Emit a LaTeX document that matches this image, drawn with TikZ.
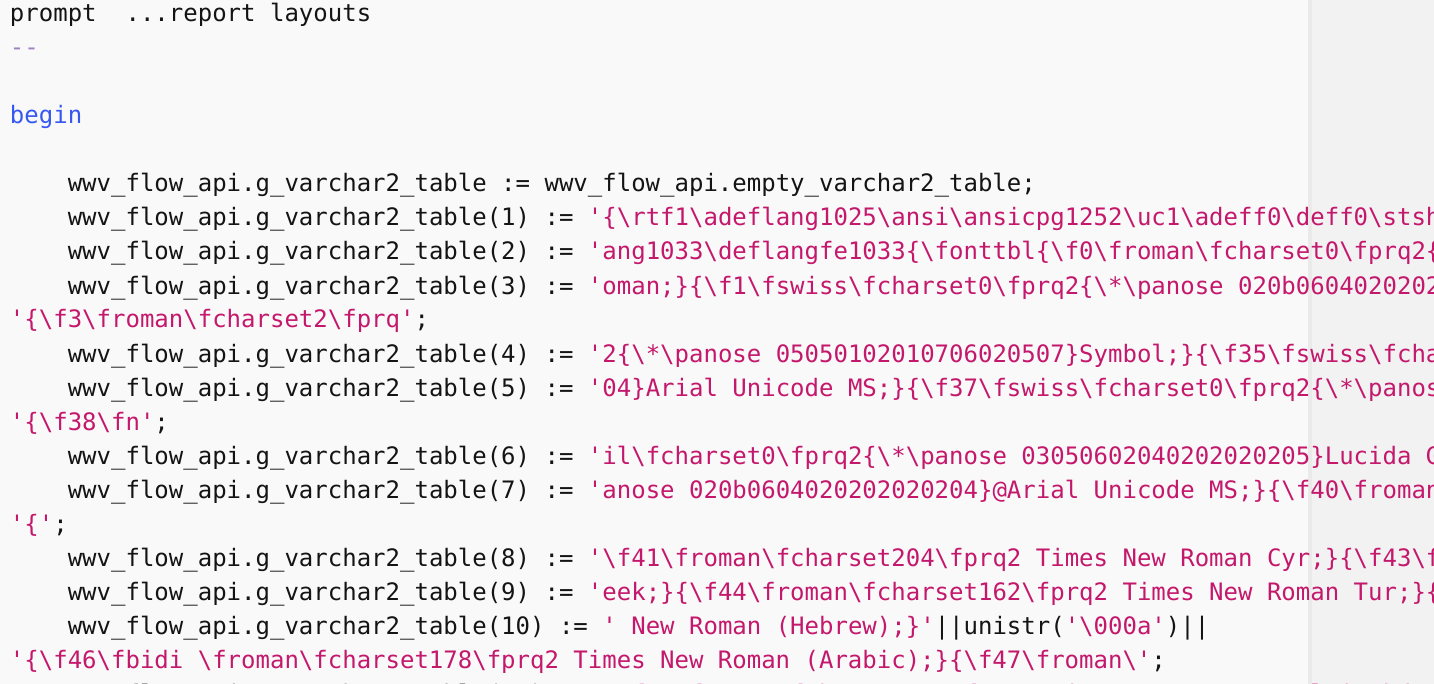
\documentclass[tikz,border=0pt]{standalone}
\usepackage{fontspec}
\setmonofont{DejaVu Sans Mono}
\definecolor{codestr}{RGB}{196,24,108}
\definecolor{codetxt}{RGB}{20,20,20}
\definecolor{codekw}{RGB}{55,88,240}
\definecolor{codecmt}{RGB}{160,130,195}
\definecolor{codebg}{RGB}{249,249,249}
\definecolor{codebgr}{RGB}{242,242,242}
\definecolor{codediv}{RGB}{234,234,234}
\newcommand\bsl{\textbackslash}
\newcommand\strc[1]{\textcolor{codestr}{#1}}
\tikzset{codeline/.style={anchor=base west, inner sep=0pt, outer sep=0pt,
  font=\ttfamily\fontsize{12}{14}\selectfont, text=codetxt}}
\begin{document}
\begin{tikzpicture}[x=0.5pt,y=-0.5pt]
\useasboundingbox (0,0) rectangle (1434,684);
\fill[codebg] (0,0) rectangle (1434,684);
\fill[codebgr] (1308,0) rectangle (1434,684);
\fill[codediv] (1308,0) rectangle (1312,684);
\clip (0,0) rectangle (1434,684);
\node[codeline] (l0) at (10,22) {prompt\ \ ...report layouts};
\node[codeline, text=codecmt] (l1) at (10,56) {-{}-};
\node[codeline, text=codekw] (l3) at (10,124) {begin};
\node[codeline] (l5) at (67.8,192) {wwv\_flow\_api.g\_varchar2\_table := wwv\_flow\_api.empty\_varchar2\_table;};
\node[codeline] (l6) at (67.8,226) {wwv\_flow\_api.g\_varchar2\_table(1) := \strc{'\{\bsl rtf1\bsl adeflang1025\bsl ansi\bsl ansicpg1252\bsl uc1\bsl adeff0\bsl deff0\bsl stshf}};
\node[codeline] (l7) at (67.8,260) {wwv\_flow\_api.g\_varchar2\_table(2) := \strc{'ang1033\bsl deflangfe1033\{\bsl fonttbl\{\bsl f0\bsl froman\bsl fcharset0\bsl fprq2\{\bsl *}};
\node[codeline] (l8) at (67.8,294) {wwv\_flow\_api.g\_varchar2\_table(3) := \strc{'oman;\}\{\bsl f1\bsl fswiss\bsl fcharset0\bsl fprq2\{\bsl *\bsl panose 020b06040202020}};
\node[codeline] (l9) at (10,328) {\strc{'\{\bsl f3\bsl froman\bsl fcharset2\bsl fprq'};};
\node[codeline] (l10) at (67.8,362) {wwv\_flow\_api.g\_varchar2\_table(4) := \strc{'2\{\bsl *\bsl panose 05050102010706020507\}Symbol;\}\{\bsl f35\bsl fswiss\bsl fchar}};
\node[codeline] (l11) at (67.8,396) {wwv\_flow\_api.g\_varchar2\_table(5) := \strc{'04\}Arial Unicode MS;\}\{\bsl f37\bsl fswiss\bsl fcharset0\bsl fprq2\{\bsl *\bsl panose}};
\node[codeline] (l12) at (10,430) {\strc{'\{\bsl f38\bsl fn'};};
\node[codeline] (l13) at (67.8,464) {wwv\_flow\_api.g\_varchar2\_table(6) := \strc{'il\bsl fcharset0\bsl fprq2\{\bsl *\bsl panose 03050602040202020205\}Lucida Gr}};
\node[codeline] (l14) at (67.8,498) {wwv\_flow\_api.g\_varchar2\_table(7) := \strc{'anose 020b0604020202020204\}@Arial Unicode MS;\}\{\bsl f40\bsl froman\bsl}};
\node[codeline] (l15) at (10,532) {\strc{'\{'};};
\node[codeline] (l16) at (67.8,566) {wwv\_flow\_api.g\_varchar2\_table(8) := \strc{'\bsl f41\bsl froman\bsl fcharset204\bsl fprq2 Times New Roman Cyr;\}\{\bsl f43\bsl fr}};
\node[codeline] (l17) at (67.8,600) {wwv\_flow\_api.g\_varchar2\_table(9) := \strc{'eek;\}\{\bsl f44\bsl froman\bsl fcharset162\bsl fprq2 Times New Roman Tur;\}\{\bsl}};
\node[codeline] (l18) at (67.8,634) {wwv\_flow\_api.g\_varchar2\_table(10) := \strc{' New Roman (Hebrew);\}'}||unistr(\strc{'\bsl 000a'})||};
\node[codeline] (l19) at (10,668) {\strc{'\{\bsl f46\bsl fbidi \bsl froman\bsl fcharset178\bsl fprq2 Times New Roman (Arabic);\}\{\bsl f47\bsl froman\bsl '};};
\node[codeline] (l20) at (67.8,702) {wwv\_flow\_api.g\_varchar2\_table(11) := \strc{'\bsl f48\bsl froman\bsl fcharset186\bsl fprq2 Times New Roman Baltic;\}\{\bsl f49\bsl}};
\end{tikzpicture}
\end{document}
